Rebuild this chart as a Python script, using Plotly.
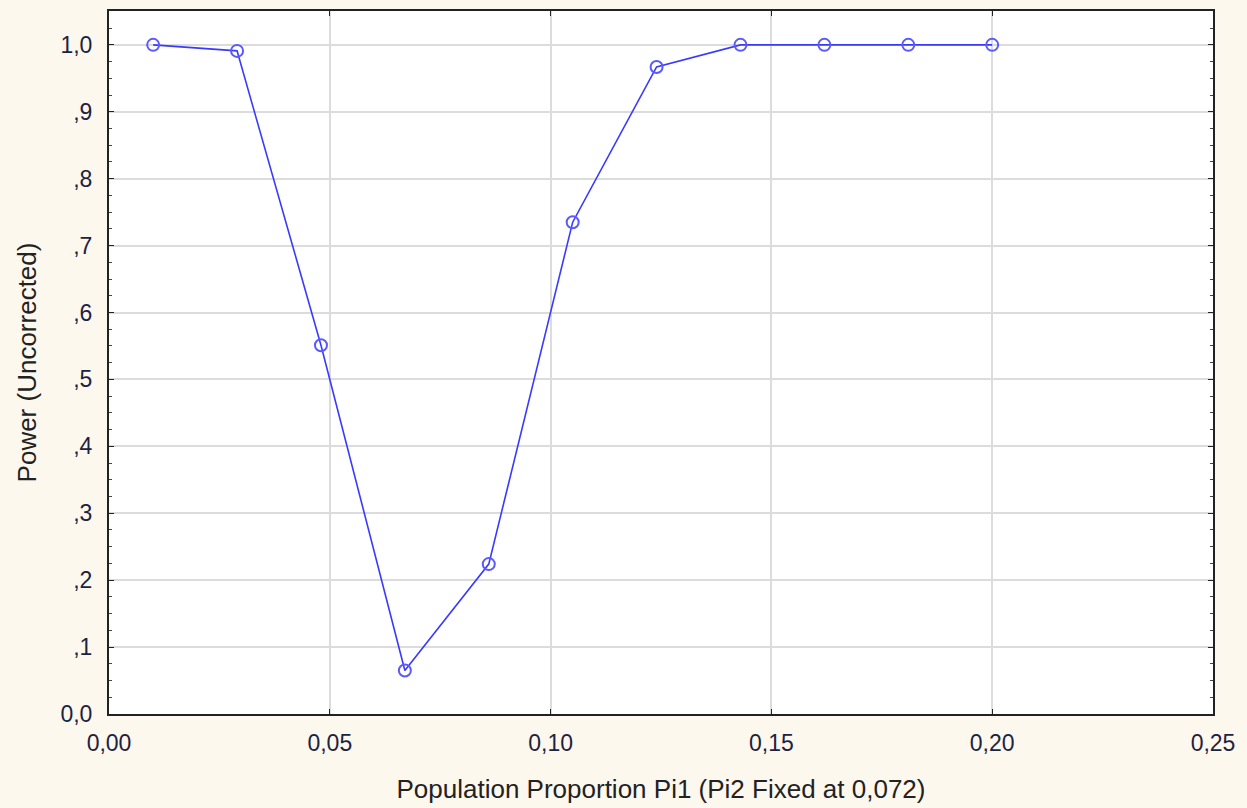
import plotly.graph_objects as go

pi1 = [0.010, 0.029, 0.048, 0.067, 0.086, 0.105, 0.124, 0.143, 0.162, 0.181, 0.200]
power = [1.000, 0.991, 0.551, 0.065, 0.224, 0.735, 0.967, 1.000, 1.000, 1.000, 1.000]

x_ticks = [0.00, 0.05, 0.10, 0.15, 0.20, 0.25]
x_labels = ["0,00", "0,05", "0,10", "0,15", "0,20", "0,25"]
y_ticks = [0.0, 0.1, 0.2, 0.3, 0.4, 0.5, 0.6, 0.7, 0.8, 0.9, 1.0]
y_labels = ["0,0", ",1", ",2", ",3", ",4", ",5", ",6", ",7", ",8", ",9", "1,0"]

fig = go.Figure()
fig.add_trace(go.Scatter(
    x=pi1, y=power, mode="lines+markers",
    line=dict(color="#3a3aff", width=1.6),
    marker=dict(symbol="circle-open", size=12, color="#5a5aff", line=dict(width=2)),
    showlegend=False,
))

font_tick = dict(family="Liberation Sans, Arial, sans-serif", size=23, color="#1c2340")
font_title = dict(family="Liberation Sans, Arial, sans-serif", size=26, color="#222222")

fig.update_layout(
    width=1247, height=808,
    paper_bgcolor="#fdf8ee",
    plot_bgcolor="#ffffff",
    margin=dict(l=109, r=34, t=9, b=93),
    xaxis=dict(
        range=[0, 0.25], tickvals=x_ticks, ticktext=x_labels,
        showgrid=True, gridcolor="#dcdcdc", gridwidth=1.5,
        showline=True, linecolor="#222222", linewidth=2, mirror="allticks",
        ticks="inside", ticklen=5, tickcolor="#222222",
        tickfont=font_tick, zeroline=False, ticklabelstandoff=7,
        title=dict(text="Population Proportion Pi1 (Pi2 Fixed at 0,072)", font=font_title, standoff=25),
    ),
    yaxis=dict(
        range=[0, 1.0506], tickvals=y_ticks, ticktext=y_labels,
        showgrid=True, gridcolor="#dcdcdc", gridwidth=1.5,
        showline=True, linecolor="#222222", linewidth=2, mirror="allticks",
        ticks="inside", ticklen=5, tickcolor="#222222",
        minor=dict(dtick=0.025, ticks="inside", ticklen=3, tickcolor="#444444", showgrid=False),
        tickfont=font_tick, zeroline=False, ticklabelstandoff=10,
        title=dict(text="Power (Uncorrected)", font=font_title, standoff=16),
    ),
)

fig.write_html(
    "out.html",
    config={"displayModeBar": False},
    post_script="document.body.style.margin='0';document.body.style.background='#fdf8ee';",
)
